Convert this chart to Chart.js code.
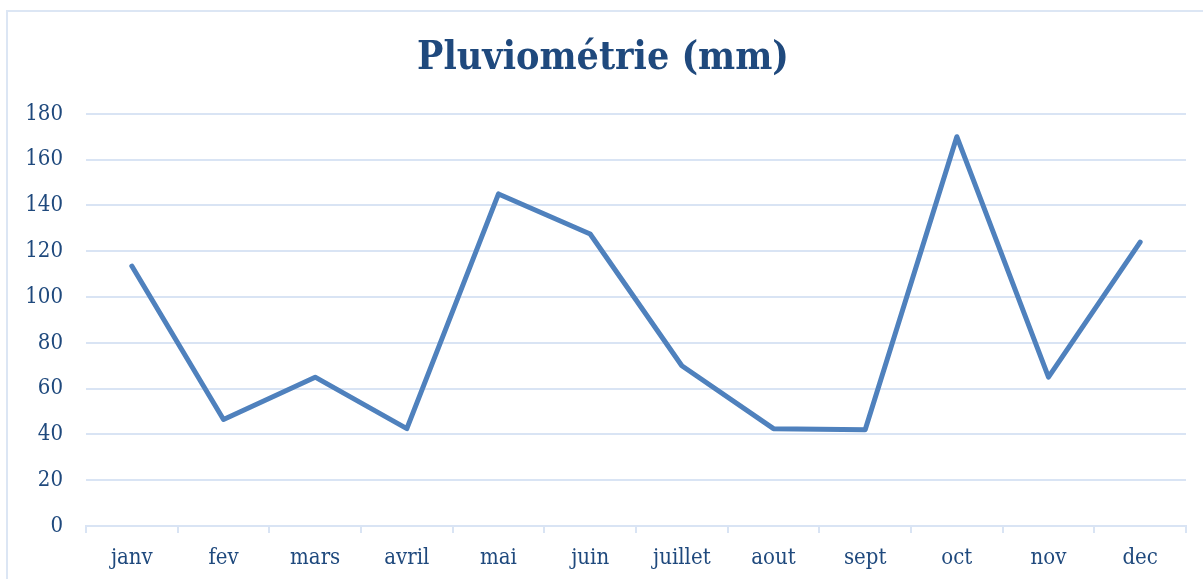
<!DOCTYPE html>
<html>
<head>
<meta charset="utf-8">
<script src="https://cdn.jsdelivr.net/npm/chart.js@4"></script>
<style>
  html, body { margin: 0; padding: 0; background: #ffffff; overflow: hidden; }
  #frame { position: absolute; left: 6px; top: 10px; width: 1400px; height: 800px; border-left: 2px solid #DCE6F4; border-top: 2px solid #DCE6F4; box-sizing: border-box; }
  #wrap { position: absolute; left: 0; top: 0; width: 1203px; height: 579px; }
</style>
</head>
<body>
<div id="frame"></div>
<div id="wrap"><canvas id="c" width="1203" height="579"></canvas></div>
<script>
const titleText = 'Pluviométrie (mm)';
const months = ['janv', 'fev', 'mars', 'avril', 'mai', 'juin', 'juillet', 'aout', 'sept', 'oct', 'nov', 'dec'];
const rainfall = [113.5, 46.5, 65, 42.5, 145, 127.5, 70, 42.5, 42, 170, 65, 124];
const yTicks = [0, 20, 40, 60, 80, 100, 120, 140, 160, 180];

const FONT = '"DejaVu Serif Condensed", "Liberation Serif", serif';
const TEXT = '#1F497D';
const GRID = '#D9E4F4';

new Chart(document.getElementById('c'), {
  type: 'line',
  data: {
    labels: months,
    datasets: [{
      data: rainfall,
      borderColor: '#4F81BD',
      borderWidth: 5,
      borderCapStyle: 'round',
      borderJoinStyle: 'round',
      pointRadius: 0,
      tension: 0,
      fill: false
    }]
  },
  options: {
    responsive: false,
    animation: false,
    layout: { padding: { left: 20, right: 17, top: 0, bottom: 0 } },
    plugins: {
      legend: { display: false },
      tooltip: { enabled: false },
      title: {
        display: true,
        text: titleText,
        color: TEXT,
        font: { family: FONT, size: 39, weight: 'bold', lineHeight: 1.2 },
        padding: { top: 35, bottom: 32 }
      }
    },
    scales: {
      x: {
        offset: true,
        grid: { offset: true, drawOnChartArea: false, drawTicks: true, tickLength: 7, color: GRID, lineWidth: 2 },
        border: { display: true, color: GRID, width: 2 },
        ticks: { color: TEXT, font: { family: FONT, size: 22 }, padding: 12, maxRotation: 0, autoSkip: false },
        afterFit: (s) => { s.height = 53; }
      },
      y: {
        min: 0,
        max: 180,
        afterBuildTicks: (s) => { s.ticks = yTicks.map(v => ({ value: v })); },
        grid: { drawTicks: false, color: GRID, lineWidth: 2 },
        border: { display: false },
        ticks: { color: TEXT, font: { family: FONT, size: 22 }, padding: 23 },
        afterFit: (s) => { s.width = 66; }
      }
    }
  }
});
</script>
</body>
</html>
